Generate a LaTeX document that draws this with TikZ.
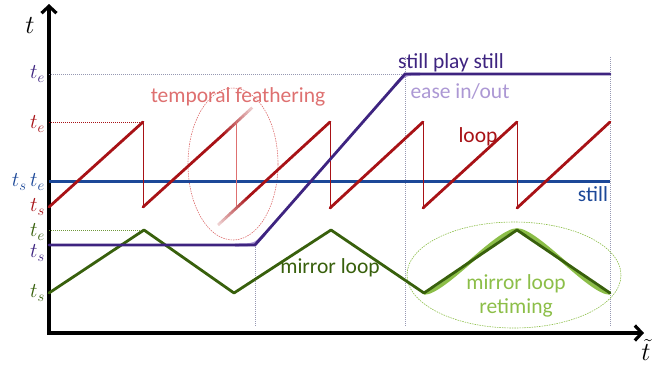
\RequirePackage{fix-cm}
\documentclass[tikz,border=0pt]{standalone}
\usepackage{fontspec}
\setmainfont{Carlito}
\usepackage{tikz}
\usetikzlibrary{arrows.meta}
\tikzset{>={Straight Barb[length=7pt,width=15pt]}}
\definecolor{loopred}{RGB}{168,18,22}
\definecolor{featherred}{RGB}{222,112,112}
\definecolor{stillblue}{RGB}{28,72,152}
\definecolor{playpurple}{RGB}{62,36,128}
\definecolor{easepurple}{RGB}{172,152,212}
\definecolor{mirrorgreen}{RGB}{56,96,12}
\definecolor{retimegreen}{RGB}{140,190,72}
\definecolor{guidegray}{RGB}{150,152,178}

\begin{document}
\begin{tikzpicture}[x=1pt, y=-1pt,
    txt/.style = {font=\fontsize{21.5}{24}\selectfont, inner sep=0pt, align=center},
    tick/.style = {font=\fontsize{21}{24}\selectfont, inner sep=0pt, anchor=east},
    curve/.style = {line width=2.8pt, line join=round, line cap=round},
    drop/.style = {line width=0.8pt},
    guide/.style = {dash pattern=on 1pt off 1pt, line width=0.6pt}]
  \useasboundingbox (0,0) rectangle (654,365);

  % axes
  \coordinate (o) at (49,333);
  \coordinate (ytop) at (49,4);
  \coordinate (xend) at (644,333);
  \draw[line width=3.2pt, ->] ([yshift=1.6pt]o) -- (ytop);
  \draw[line width=3.2pt, ->] ([xshift=-1.6pt]o) -- (xend);
  \node (t) at (30,26) {\fontsize{26}{28}\selectfont$t$};
  \node (tt) at (646,350) {\fontsize{26}{28}\selectfont$\tilde{t}$};

  % guides
  \draw[guide, guidegray] (49,74) -- (405,74);
  \draw[guide, loopred] (49,122) -- (143,122);
  \draw[guide, retimegreen!80!black] (49,230) -- (144,230);
  \draw[guide, guidegray] (255,245) -- (255,327);
  \draw[guide, guidegray] (405,57) -- (405,327);
  \draw[guide, guidegray] (610,57) -- (610,327);

  % highlights
  \draw[featherred, line width=0.6pt, dash pattern=on 1.5pt off 1pt] (233,164) ellipse [x radius=45, y radius=76];
  \draw[retimegreen, line width=0.6pt, dash pattern=on 1.5pt off 1pt] (514,275) ellipse [x radius=107, y radius=53];

  % still
  \draw[line width=3pt, stillblue] (49,181.5) -- (610,181.5);

  % loop
  \draw[curve, loopred] (49,207) -- (143,122);
  \draw[drop, loopred] (143,122) -- (143,207);
  \draw[curve, loopred] (143,207) -- (222,135.5);
  \foreach \i in {0,...,14} {
    \pgfmathtruncatemacro{\p}{100-5.5*\i}
    \draw[line width=2.8pt, loopred!\p!white] (222+2*\i,135.5-1.85*\i) -- (224.2+2*\i,133.5-1.85*\i);
  }
  \draw[drop, featherred] (236,122) -- (236,208);
  \foreach \i in {0,...,14} {
    \pgfmathtruncatemacro{\p}{20+5.5*\i}
    \draw[line width=2.8pt, loopred!\p!white] (218+2*\i,225-1.85*\i) -- (220.2+2*\i,223-1.85*\i);
  }
  \draw[curve, loopred] (248,197.2) -- (330,122);
  \draw[drop, loopred] (330,122) -- (330,208);
  \draw[curve, loopred] (330,208) -- (423,122);
  \draw[drop, loopred] (423,122) -- (423,208);
  \draw[curve, loopred] (423,208) -- (517,122);
  \draw[drop, loopred] (517,122) -- (517,208);
  \draw[curve, loopred] (517,208) -- (610,122);

  % mirror loop
  \draw[line width=3.6pt, retimegreen] (424,293) .. controls (444,293) and (497,230) .. (517,230)
    .. controls (537,230) and (590,293) .. (610,293);
  \draw[curve, mirrorgreen] (49,293) -- (144,230) -- (234,293) -- (331,230) -- (424,293) -- (517,230) -- (610,293);

  % still play still
  \draw[line width=3pt, easepurple] (235,245) .. controls (255,245) .. (265,233.6);
  \draw[line width=3pt, easepurple] (395,85.4) .. controls (405,74) .. (420,74);
  \draw[curve, playpurple, line join=miter] (49,245) -- (255,245) -- (405,74) -- (610,74);

  % tick labels
  \node[tick, playpurple] (pte) at (45,74) {$t_e$};
  \node[tick, loopred] (lte) at (45,124) {$t_e$};
  \node[tick, stillblue] (ste) at (45,182) {$t_s\,t_e$};
  \node[tick, loopred] (lts) at (45,207) {$t_s$};
  \node[tick, mirrorgreen] (mte) at (45,232) {$t_e$};
  \node[tick, playpurple] (pts) at (45,253) {$t_s$};
  \node[tick, mirrorgreen] (mts) at (45,293) {$t_s$};

  % curve labels
  \node[txt, playpurple] (play) at (451,63) {still play still};
  \node[txt, easepurple] (ease) at (460,91) {ease in/out};
  \node[txt, featherred] (feather) at (238,97) {temporal feathering};
  \node[txt, loopred] (loop) at (478,137) {loop};
  \node[txt, stillblue] (still) at (593,194) {still};
  \node[txt, mirrorgreen] (mirror) at (330,268) {mirror loop};
  \node[txt, retimegreen] (retime) at (516,296) {mirror loop\\retiming};
\end{tikzpicture}
\end{document}
